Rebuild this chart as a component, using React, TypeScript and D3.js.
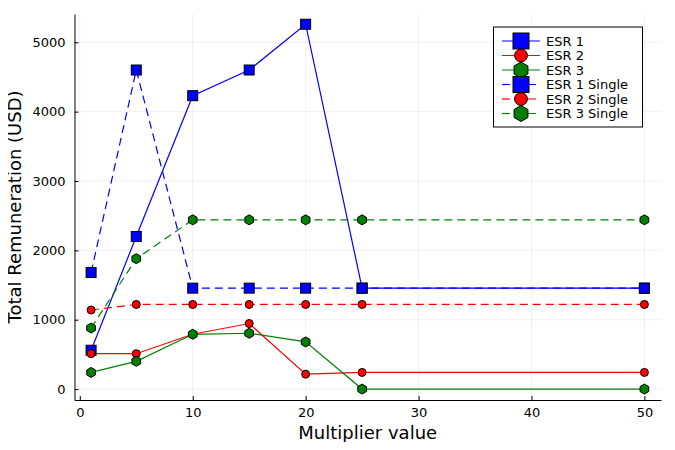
import React, { useEffect, useRef } from 'react';
import * as d3 from 'd3';

// multiplier values (x)
const multipliers = [1, 5, 10, 15, 20, 25, 50];

// total remuneration per series
const esr1 = [560, 2200, 4230, 4600, 5260, 1455, 1455];
const esr2 = [510, 510, 790, 945, 215, 240, 240];
const esr3 = [240, 400, 790, 805, 680, 0, 0];
const esr1Single = [1680, 4600, 1455, 1455, 1455, 1455, 1455];
const esr2Single = [1140, 1220, 1220, 1220, 1220, 1220, 1220];
const esr3Single = [880, 1880, 2440, 2440, 2440, 2440, 2440];

const xTicks = [0, 10, 20, 30, 40, 50];
const yTicks = [0, 1000, 2000, 3000, 4000, 5000];

type Shape = 'square' | 'circle' | 'hexagon';

const seriesList = [
  { name: 'ESR 1', values: esr1, color: '#0000ff', shape: 'square' as Shape, dashed: false },
  { name: 'ESR 2', values: esr2, color: '#ff0000', shape: 'circle' as Shape, dashed: false },
  { name: 'ESR 3', values: esr3, color: '#008000', shape: 'hexagon' as Shape, dashed: false },
  { name: 'ESR 1 Single', values: esr1Single, color: '#0000ff', shape: 'square' as Shape, dashed: true },
  { name: 'ESR 2 Single', values: esr2Single, color: '#ff0000', shape: 'circle' as Shape, dashed: true },
  { name: 'ESR 3 Single', values: esr3Single, color: '#008000', shape: 'hexagon' as Shape, dashed: true },
];

const W = 675;
const H = 450;
const FONT = 'DejaVu Sans, sans-serif';

function hexPath(r: number) {
  const pts: [number, number][] = [];
  for (let i = 0; i < 6; i++) {
    const a = Math.PI / 2 + (i * Math.PI) / 3;
    pts.push([r * Math.cos(a), r * Math.sin(a)]);
  }
  return 'M' + pts.map(p => p.join(',')).join('L') + 'Z';
}

function drawMarker(g: d3.Selection<SVGGElement, unknown, null, undefined>, shape: Shape, x: number, y: number, color: string, scale = 1) {
  if (shape === 'square') {
    const s = 10 * scale;
    g.append('rect').attr('x', x - s / 2).attr('y', y - s / 2).attr('width', s).attr('height', s)
      .attr('fill', color).attr('stroke', '#000').attr('stroke-width', 1);
  } else if (shape === 'circle') {
    g.append('circle').attr('cx', x).attr('cy', y).attr('r', 4 * scale)
      .attr('fill', color).attr('stroke', '#000').attr('stroke-width', 1);
  } else {
    g.append('path').attr('d', hexPath(5 * scale)).attr('transform', `translate(${x},${y})`)
      .attr('fill', color).attr('stroke', '#000').attr('stroke-width', 1);
  }
}

const App: React.FC = () => {
  const svgRef = useRef<SVGSVGElement | null>(null);

  useEffect(() => {
    if (!svgRef.current) return;
    const svg = d3.select(svgRef.current);
    svg.selectAll('*').remove();

    const left = 74.5, right = 661, top = 14, bottom = 400;

    const x = d3.scaleLinear().domain([-0.47, 51.47]).range([left, right]);
    const y = d3.scaleLinear().domain([-157.5, 5407.5]).range([bottom, top]);

    svg.append('rect').attr('width', W).attr('height', H).attr('fill', '#fff');

    // grid
    const grid = svg.append('g');
    xTicks.forEach(t => {
      grid.append('line').attr('x1', x(t)).attr('x2', x(t)).attr('y1', top).attr('y2', bottom)
        .attr('stroke', '#000').attr('stroke-opacity', 0.1).attr('stroke-width', 0.6);
    });
    yTicks.forEach(t => {
      grid.append('line').attr('x1', left).attr('x2', right).attr('y1', y(t)).attr('y2', y(t))
        .attr('stroke', '#000').attr('stroke-opacity', 0.1).attr('stroke-width', 0.6);
    });

    // axes
    const xAxis = svg.append('g').attr('transform', `translate(0,${bottom})`)
      .call(d3.axisBottom(x).tickValues(xTicks).tickFormat(d3.format('d')).tickSizeInner(-4).tickSizeOuter(0).tickPadding(8));
    xAxis.select('.domain').attr('stroke', '#000').attr('stroke-width', 1);
    xAxis.selectAll('.tick line').attr('stroke', '#000');
    xAxis.selectAll('text').attr('font-family', FONT).attr('font-size', 13).attr('fill', '#000');

    const yAxis = svg.append('g').attr('transform', `translate(${left},0)`)
      .call(d3.axisLeft(y).tickValues(yTicks).tickFormat(d3.format('d')).tickSizeInner(-4).tickSizeOuter(0).tickPadding(9));
    yAxis.select('.domain').attr('stroke', '#000').attr('stroke-width', 1);
    yAxis.selectAll('.tick line').attr('stroke', '#000');
    yAxis.selectAll('text').attr('font-family', FONT).attr('font-size', 13).attr('fill', '#000');

    // series
    const line = d3.line<number>().x((_, i) => x(multipliers[i])).y(d => y(d));
    const plot = svg.append('g');
    seriesList.forEach(s => {
      plot.append('path').attr('d', line(s.values) || '').attr('fill', 'none')
        .attr('stroke', s.color).attr('stroke-width', 1.2)
        .attr('stroke-dasharray', s.dashed ? '8,5' : null);
    });
    seriesList.forEach(s => {
      s.values.forEach((v, i) => drawMarker(plot, s.shape, x(multipliers[i]), y(v), s.color));
    });

    // labels
    svg.append('text').attr('x', (left + right) / 2).attr('y', 439).attr('text-anchor', 'middle')
      .attr('font-family', FONT).attr('font-size', 18).text('Multiplier value');
    svg.append('text').attr('transform', `translate(21,${(top + bottom) / 2}) rotate(-90)`)
      .attr('text-anchor', 'middle').attr('font-family', FONT).attr('font-size', 18)
      .text('Total Remuneration (USD)');

    // legend
    const lg = svg.append('g');
    lg.append('rect').attr('x', 493.5).attr('y', 27).attr('width', 149).attr('height', 100)
      .attr('fill', '#fff').attr('stroke', '#000').attr('stroke-width', 1);
    seriesList.forEach((s, i) => {
      const ly = 41 + i * 14.5;
      lg.append('line').attr('x1', 502).attr('x2', 540).attr('y1', ly).attr('y2', ly)
        .attr('stroke', s.color).attr('stroke-width', 1.2)
        .attr('stroke-dasharray', s.dashed ? '8,5' : null);
      drawMarker(lg, s.shape, 521, ly, s.color, 1.6);
      lg.append('text').attr('x', 546).attr('y', ly).attr('dy', '0.35em')
        .attr('font-family', FONT).attr('font-size', 13).text(s.name);
    });
  }, []);

  return <svg ref={svgRef} width={W} height={H} style={{ display: 'block', margin: -8 }} />;
};

export default App;
